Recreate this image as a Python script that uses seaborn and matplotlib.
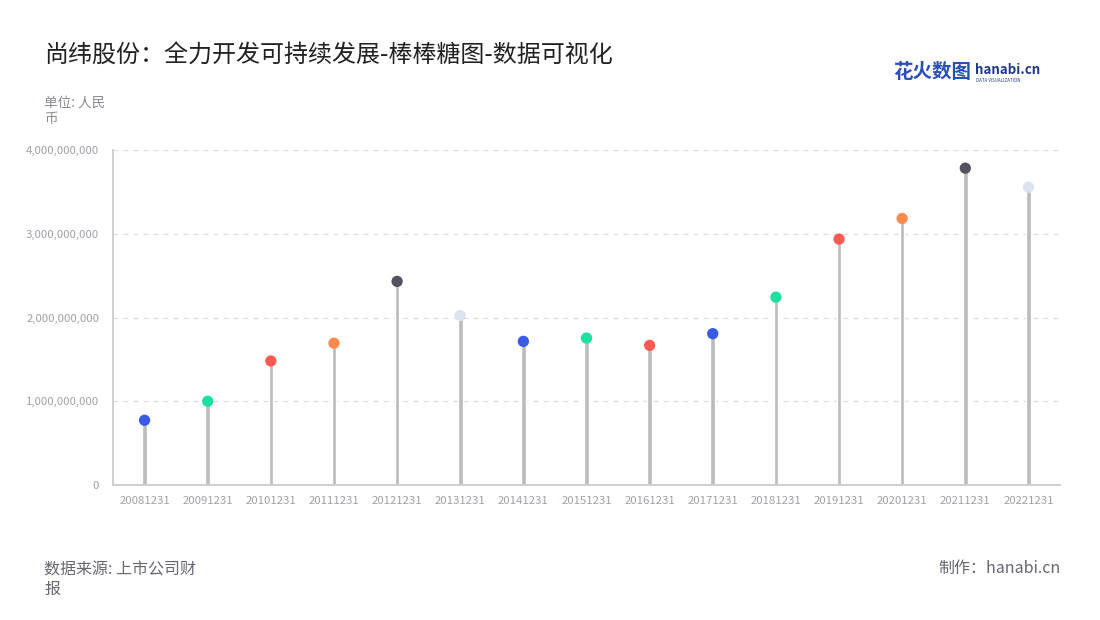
import matplotlib
matplotlib.use("Agg")
import matplotlib.pyplot as plt
import matplotlib.ticker as mticker
import seaborn as sns
import pandas as pd

dates = ["20081231", "20091231", "20101231", "20111231", "20121231", "20131231",
         "20141231", "20151231", "20161231", "20171231", "20181231", "20191231",
         "20201231", "20211231", "20221231"]
values = [0.773e9, 1.000e9, 1.481e9, 1.693e9, 2.431e9, 2.025e9,
          1.715e9, 1.754e9, 1.667e9, 1.807e9, 2.243e9, 2.936e9,
          3.183e9, 3.783e9, 3.556e9]
palette = ["#3a5ae8", "#1de09e", "#ff5a52", "#ff8a4e", "#53535f", "#dce2ee",
           "#3a5ae8", "#1de09e", "#ff5a52"]
yticks = [0, 1e9, 2e9, 3e9, 4e9]

title = "尚纬股份：全力开发可持续发展-棒棒糖图-数据可视化"
unit_text = "单位: 人民\n币"
source_text = "数据来源: 上市公司财\n报"
credit_text = "制作：hanabi.cn"

df = pd.DataFrame({"date": dates, "value": values})
df["color"] = [palette[i % len(palette)] for i in range(len(df))]

sns.set_theme(style="white")
plt.rcParams["font.family"] = ["Noto Sans CJK SC", "DejaVu Sans"]

fig = plt.figure(figsize=(11, 6.2), dpi=100)
ax = fig.add_axes([113 / 1100, 1 - 485 / 620, (1060 - 113) / 1100, (485 - 150) / 620])

sns.barplot(data=df, x="date", y="value", color="#bbbbbb", width=0.072,
            saturation=1, ax=ax, zorder=2)
sns.scatterplot(data=df, x="date", y="value", hue="date",
                palette=list(df["color"]), s=66, edgecolor="none",
                legend=False, ax=ax, zorder=3, clip_on=False)

ax.set_xlim(-0.5, len(dates) - 0.5)
ax.set_ylim(0, 4e9)
ax.set_yticks(yticks)
ax.yaxis.set_major_formatter(mticker.FuncFormatter(lambda v, p: f"{int(v):,}"))
ax.grid(axis="y", color="#dddddd", linestyle=(0, (4, 4)), linewidth=0.9)
ax.set_axisbelow(True)
for s in ["top", "right"]:
    ax.spines[s].set_visible(False)
for s in ["left", "bottom"]:
    ax.spines[s].set_color("#cccccc")
    ax.spines[s].set_linewidth(1.3)
ax.tick_params(axis="both", which="major", length=5, width=1, color="#cccccc",
               labelcolor="#a0a0a8", labelsize=8.2, pad=3)
ax.tick_params(axis="y", pad=5)
ax.set_xlabel("")
ax.set_ylabel("")

fig.text(44 / 1100, 1 - 56 / 620, title, fontsize=17.3, color="#222222", va="center")
fig.text(44 / 1100, 1 - 96 / 620, unit_text, fontsize=9.8, color="#8a8a95",
         va="top", linespacing=1.2)
fig.text(44 / 1100, 1 - 561 / 620, source_text, fontsize=11.5, color="#666670",
         va="top", linespacing=1.2)
fig.text(1061 / 1100, 1 - 568 / 620, credit_text, fontsize=11.5, color="#666670",
         va="center", ha="right")

# logo
fig.text(893 / 1100, 1 - 73 / 620, "花火数图", fontsize=14, color="#2b4fb8",
         fontweight="bold", va="center")
fig.text(975 / 1100, 1 - 70 / 620, "hanabi.cn", fontsize=9.6, color="#1f3a8a",
         fontweight="bold", va="center")
fig.text(976 / 1100, 1 - 80 / 620, "DATA VISUALIZATION", fontsize=3.2,
         color="#1f3a8a", va="center")

fig.savefig("out.png", dpi=100)
